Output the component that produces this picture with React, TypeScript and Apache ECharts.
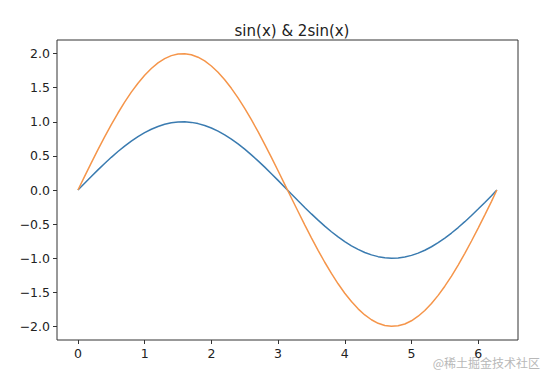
import React, { useEffect, useRef } from "react";
import * as echarts from "echarts";

const xValues = [0, 0.1, 0.2, 0.3, 0.4, 0.5, 0.6, 0.7, 0.8, 0.9, 1.0, 1.1, 1.2, 1.3, 1.4, 1.5, 1.6, 1.7, 1.8, 1.9, 2.0, 2.1, 2.2, 2.3, 2.4, 2.5, 2.6, 2.7, 2.8, 2.9, 3.0, 3.1, 3.2, 3.3, 3.4, 3.5, 3.6, 3.7, 3.8, 3.9, 4.0, 4.1, 4.2, 4.3, 4.4, 4.5, 4.6, 4.7, 4.8, 4.9, 5.0, 5.1, 5.2, 5.3, 5.4, 5.5, 5.6, 5.7, 5.8, 5.9, 6.0, 6.1, 6.2, 6.28];
const sinValues = [0, 0.0998, 0.1987, 0.2955, 0.3894, 0.4794, 0.5646, 0.6442, 0.7174, 0.7833, 0.8415, 0.8912, 0.932, 0.9636, 0.9854, 0.9975, 0.9996, 0.9917, 0.9738, 0.9463, 0.9093, 0.8632, 0.8085, 0.7457, 0.6755, 0.5985, 0.5155, 0.4274, 0.335, 0.2392, 0.1411, 0.0416, -0.0584, -0.1577, -0.2555, -0.3508, -0.4425, -0.5298, -0.6119, -0.6878, -0.7568, -0.8183, -0.8716, -0.9162, -0.9516, -0.9775, -0.9937, -0.9999, -0.9962, -0.9825, -0.9589, -0.9258, -0.8835, -0.8323, -0.7728, -0.7055, -0.6313, -0.5507, -0.4646, -0.3739, -0.2794, -0.1822, -0.0831, 0];
const twoSinValues = [0, 0.1996, 0.3974, 0.591, 0.7788, 0.9588, 1.1292, 1.2884, 1.4348, 1.5666, 1.683, 1.7824, 1.864, 1.9272, 1.9708, 1.995, 1.9992, 1.9834, 1.9476, 1.8926, 1.8186, 1.7264, 1.617, 1.4914, 1.351, 1.197, 1.031, 0.8548, 0.67, 0.4784, 0.2822, 0.0832, -0.1168, -0.3154, -0.511, -0.7016, -0.885, -1.0596, -1.2238, -1.3756, -1.5136, -1.6366, -1.7432, -1.8324, -1.9032, -1.955, -1.9874, -1.9998, -1.9924, -1.965, -1.9178, -1.8516, -1.767, -1.6646, -1.5456, -1.411, -1.2626, -1.1014, -0.9292, -0.7478, -0.5588, -0.3644, -0.1662, 0];
const xTicks = [0, 1, 2, 3, 4, 5, 6];
const yTicks = [-2, -1.5, -1, -0.5, 0, 0.5, 1, 1.5, 2];
const title = "sin(x) & 2sin(x)";
const watermark = "@稀土掘金技术社区";

export default function App() {
  const ref = useRef<HTMLDivElement>(null);
  useEffect(() => {
    if (!ref.current) return;
    const chart = echarts.init(ref.current, null, { renderer: "svg" });
    const font = "DejaVu Sans";
    chart.setOption({
      animation: false,
      backgroundColor: "#fff",
      title: {
        text: title,
        left: 287,
        textAlign: "center",
        top: 18,
        textStyle: { fontFamily: font, fontSize: 15, fontWeight: "normal", color: "#222" },
      },
      grid: { left: 57, right: 32, top: 40, bottom: 40, show: true, borderColor: "#333", borderWidth: 1, backgroundColor: "transparent" },
      xAxis: {
        type: "value",
        min: -0.314,
        max: 6.597,
        splitLine: { show: false },
        axisLine: { show: false, onZero: false },
        axisTick: { show: true, inside: false, length: 4, customValues: xTicks, lineStyle: { color: "#333" } },
        axisLabel: { customValues: xTicks, fontFamily: font, fontSize: 12.5, color: "#222", margin: 7, formatter: (v: number) => String(v) },
      },
      yAxis: {
        type: "value",
        min: -2.2,
        max: 2.2,
        splitLine: { show: false },
        axisLine: { show: false, onZero: false },
        axisTick: { show: true, inside: false, length: 4, customValues: yTicks, lineStyle: { color: "#333" } },
        axisLabel: {
          customValues: yTicks,
          fontFamily: font,
          fontSize: 12.5,
          color: "#222",
          margin: 7,
          formatter: (v: number) => v.toFixed(1).replace("-", "\u2212"),
        },
      },
      series: [
        {
          type: "line",
          data: xValues.map((x, i) => [x, sinValues[i]]),
          showSymbol: false,
          lineStyle: { color: "#3a7bb0", width: 1.5 },
          itemStyle: { color: "#3a7bb0" },
        },
        {
          type: "line",
          data: xValues.map((x, i) => [x, twoSinValues[i]]),
          showSymbol: false,
          lineStyle: { color: "#f5954a", width: 1.5 },
          itemStyle: { color: "#f5954a" },
        },
      ],
      graphic: [
        {
          type: "text",
          right: 10,
          top: 356,
          style: { text: watermark, fontFamily: "Noto Sans CJK SC", fontSize: 12, fill: "#b8b8b8" },
        },
      ],
    });
    return () => chart.dispose();
  }, []);
  return <div ref={ref} style={{ position: "fixed", left: 0, top: 0, width: 550, height: 380 }} />;
}
